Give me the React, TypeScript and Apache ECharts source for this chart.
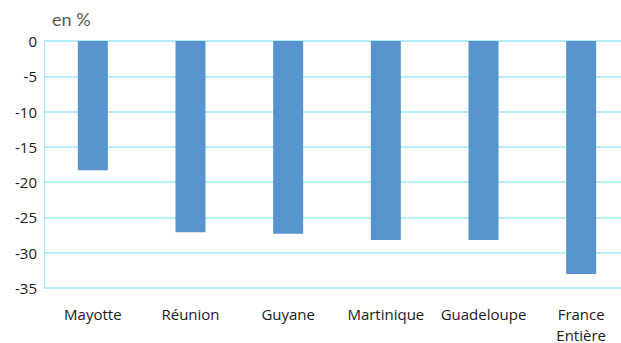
import React, { useEffect, useRef } from "react";
import * as echarts from "echarts";

const categories = ["Mayotte", "Réunion", "Guyane", "Martinique", "Guadeloupe", "France\nEntière"];
const values = [-18.3, -27.1, -27.3, -28.2, -28.2, -33.0];
const unitLabel = "en %";

export default function App() {
  const ref = useRef<HTMLDivElement>(null);
  useEffect(() => {
    if (!ref.current) return;
    const chart = echarts.init(ref.current, undefined, { renderer: "svg" });
    chart.setOption({
      animation: false,
      backgroundColor: "#ffffff",
      textStyle: { fontFamily: "Open Sans" },
      grid: { left: 44, top: 41, bottom: 55, width: 586, outerBoundsMode: "none", containLabel: false },
      graphic: [
        {
          type: "text",
          left: 52,
          top: 10,
          style: { text: unitLabel, fontSize: 18, fill: "#595959", fontFamily: "Lato" },
        },
      ],
      xAxis: {
        type: "category",
        data: categories,
        position: "bottom",
        axisLine: { show: false },
        axisTick: { show: false },
        axisLabel: {
          color: "#1a1a1a",
          fontSize: 15,
          lineHeight: 21,
          margin: 15,
          fontFamily: "Open Sans",
          interval: 0,
        },
      },
      yAxis: {
        type: "value",
        min: -35,
        max: 0,
        interval: 5,
        axisLine: { show: true, lineStyle: { color: "#9fe6f7", width: 1 } },
        axisTick: { show: false },
        splitLine: { show: true, lineStyle: { color: "#9fe6f7", width: 1.5 } },
        axisLabel: { color: "#1a1a1a", fontSize: 15, margin: 7, fontFamily: "Open Sans" },
      },
      series: [
        {
          type: "bar",
          data: values,
          barWidth: 30,
          itemStyle: { color: "#5794cd" },
        },
      ],
    });
    return () => chart.dispose();
  }, []);
  return (
    <div
      ref={ref}
      style={{ position: "fixed", left: 0, top: 0, width: 621, height: 343 }}
    />
  );
}
